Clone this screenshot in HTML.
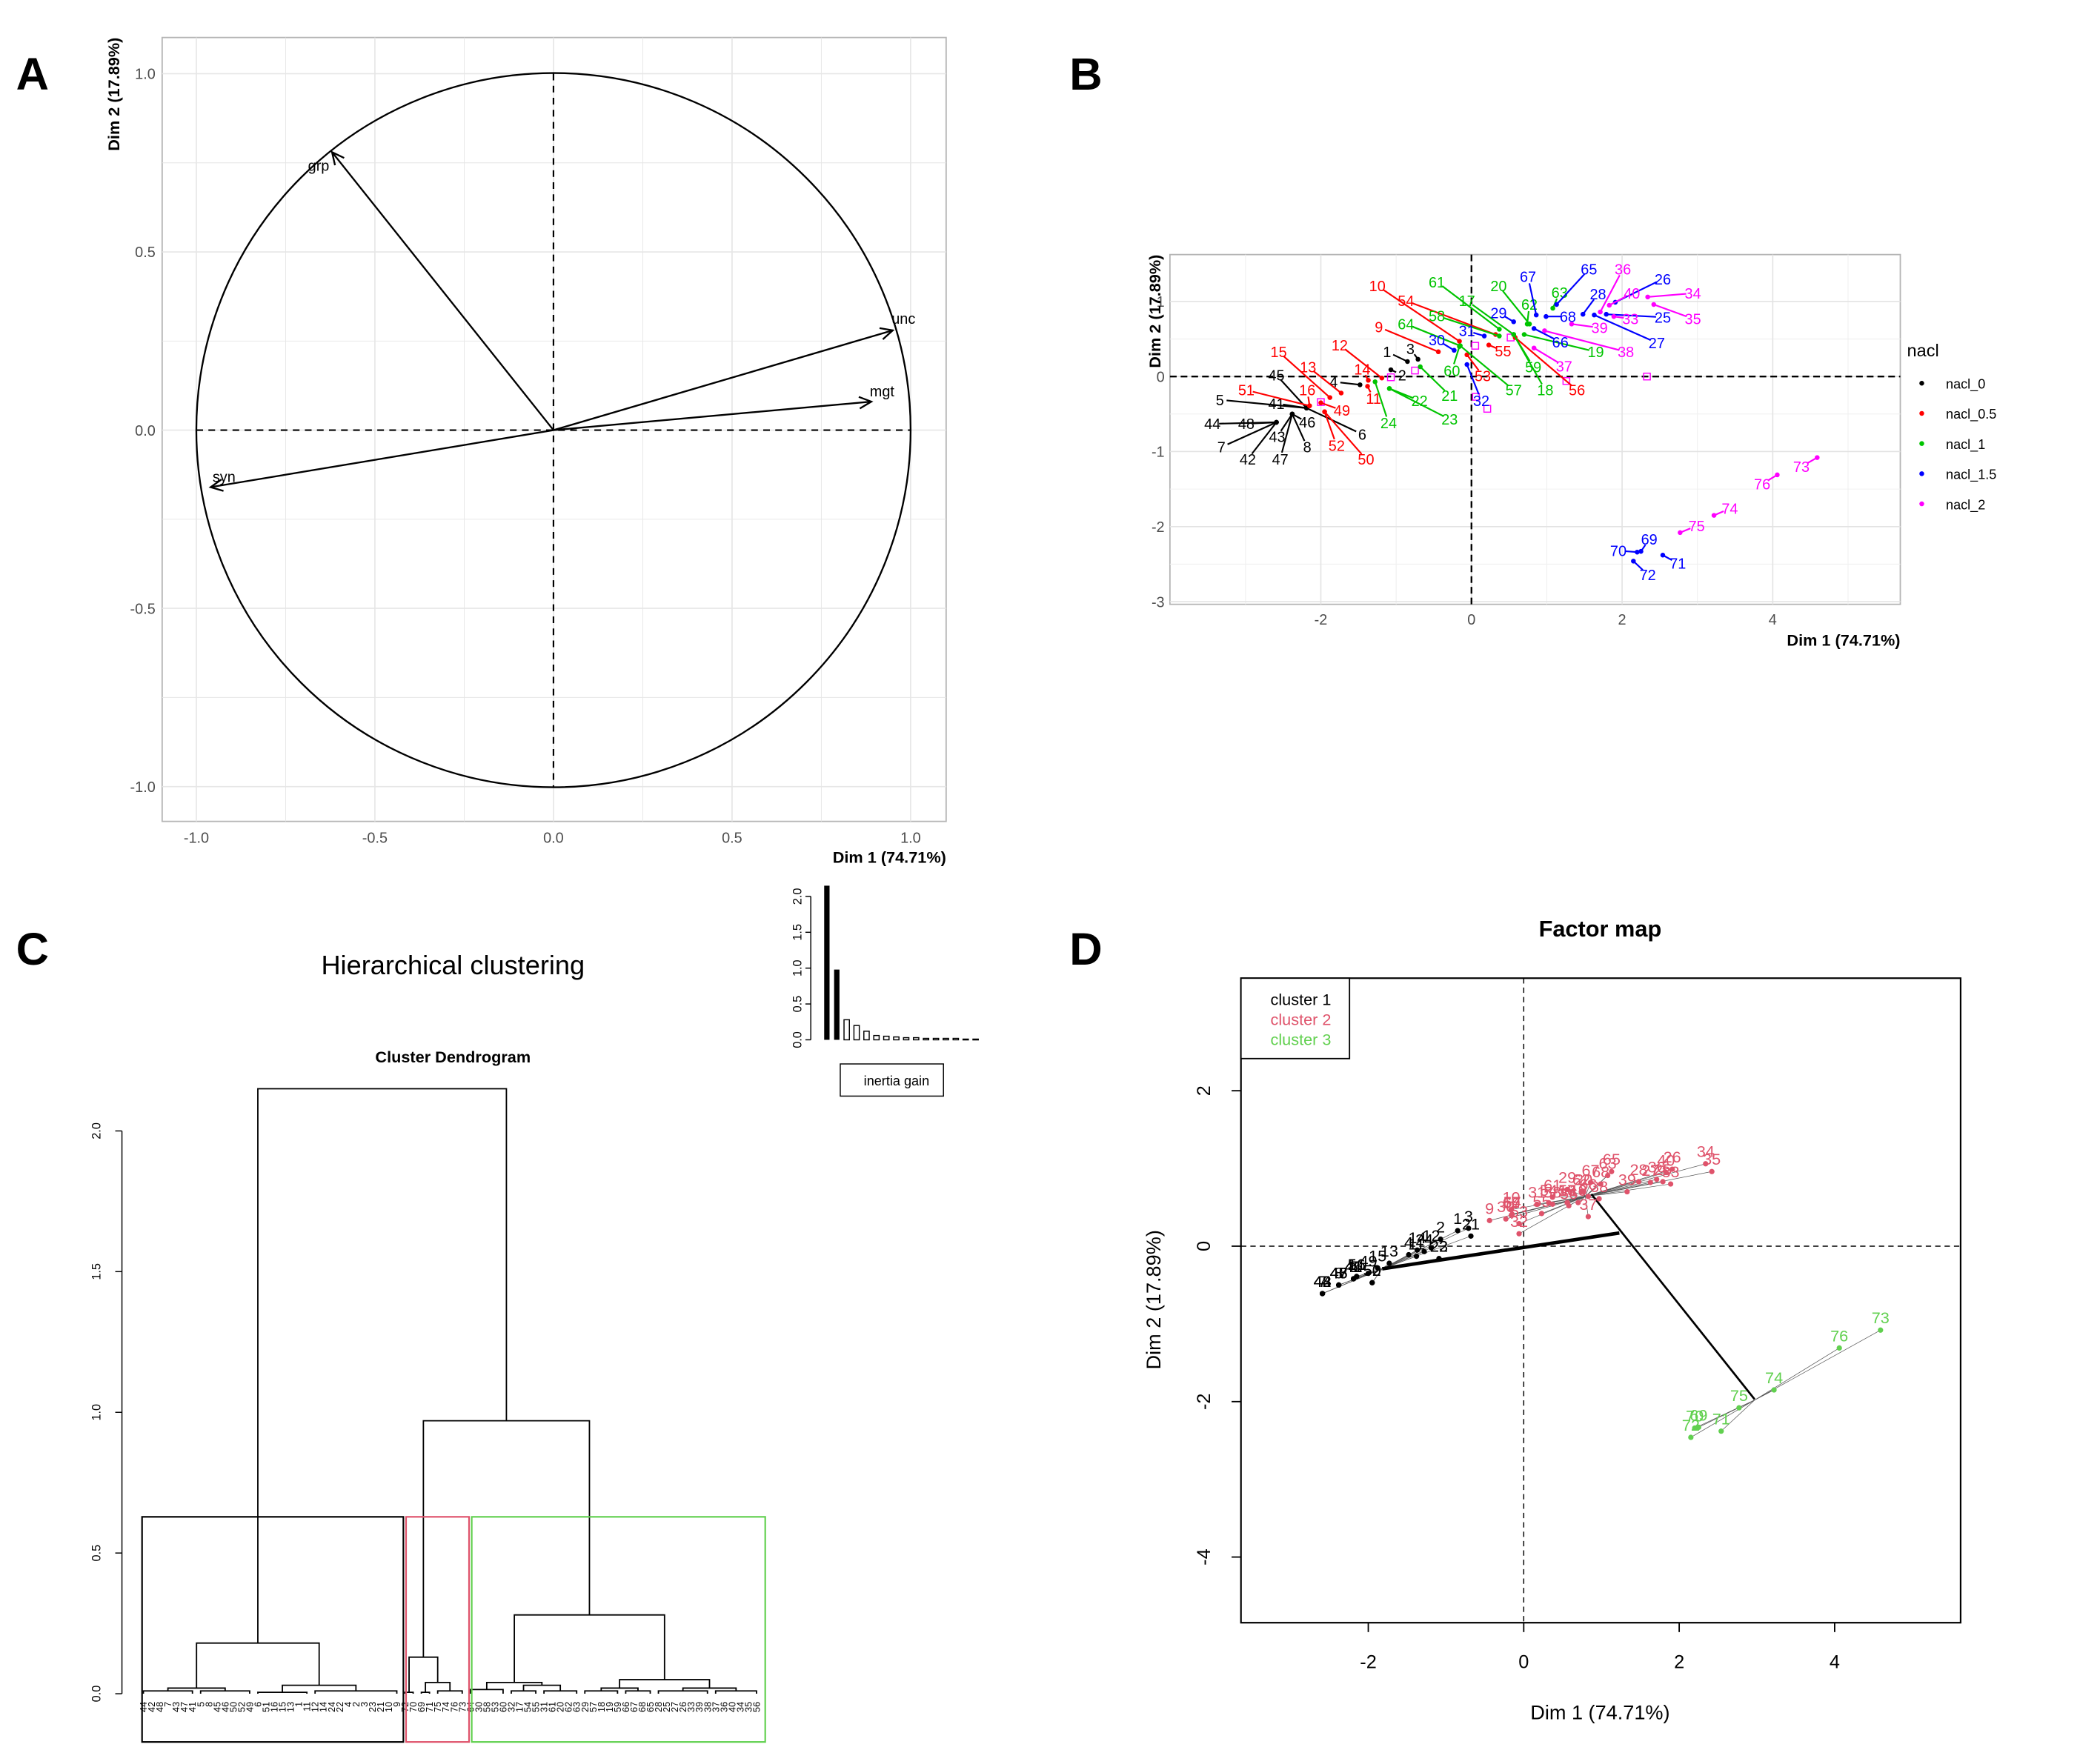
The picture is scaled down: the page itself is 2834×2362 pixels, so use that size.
<!DOCTYPE html>
<html><head><meta charset="utf-8"><style>
html,body{margin:0;padding:0;background:#fff}
svg{display:block;font-family:"Liberation Sans",sans-serif}
</style></head><body>
<svg id="fig" width="2834" height="2362" viewBox="0 0 1567 1306" preserveAspectRatio="none" xmlns="http://www.w3.org/2000/svg">
<g id="panelA"></g>
<g id="panelB"></g>
<g id="panelC"></g>
<g id="panelD"></g>
</svg>
<script>
// ---------- data ----------
const varNames = ["grp","unc","mgt","syn"];
const varX = [-0.62, 0.95, 0.89, -0.96];
const varY = [0.78, 0.28, 0.08, -0.16];
const ticksA = [-1.0, -0.5, 0.0, 0.5, 1.0];

const groups = ["nacl_0","nacl_0.5","nacl_1","nacl_1.5","nacl_2"];
const groupColors = ["#000000","#ff0000","#00c400","#0000ff","#ff00ff"];
const indLabels = ["1","3","2","4","45","5","41","44","48","46","7","43","42","47","8","6",
 "10","54","9","12","15","13","14","11","16","51","49","52","50","55","53","56",
 "61","17","20","63","62","58","64","60","21","22","23","24","57","18","19","59",
 "67","65","26","28","29","68","25","27","31","30","66","32","69","70","71","72",
 "36","40","34","35","33","39","38","37","73","76","74","75"];
const indGroup = [0,0,0,0,0,0,0,0,0,0,0,0,0,0,0,0,
 1,1,1,1,1,1,1,1,1,1,1,1,1,1,1,1,
 2,2,2,2,2,2,2,2,2,2,2,2,2,2,2,2,
 3,3,3,3,3,3,3,3,3,3,3,3,3,3,3,3,
 4,4,4,4,4,4,4,4,4,4,4,4];
const indX = [-0.85,-0.71,-1.07,-1.48,-2.19,-2.19,-2.19,-2.59,-2.59,-2.38,-2.59,-2.38,-2.59,-2.38,-2.38,-2.19,
 -0.16,0.32,-0.44,-1.19,-1.88,-1.73,-1.37,-1.38,-2.15,-2.15,-2.0,-1.95,-1.95,0.23,-0.06,0.58,
 0.37,0.56,0.77,1.08,0.74,0.37,-0.15,-0.16,-0.68,-1.09,-1.09,-1.28,-0.15,0.56,0.70,0.56,
 0.86,1.13,1.91,1.48,0.56,0.99,1.79,1.63,0.17,-0.23,0.83,-0.06,2.25,2.20,2.54,2.15,
 1.71,1.83,2.34,2.42,1.89,1.33,0.97,0.83,4.59,4.06,3.22,2.77];
const indY = [0.20,0.23,0.09,-0.11,-0.42,-0.42,-0.42,-0.61,-0.61,-0.50,-0.61,-0.50,-0.61,-0.50,-0.50,-0.42,
 0.47,0.56,0.33,-0.02,-0.28,-0.22,-0.05,-0.13,-0.39,-0.39,-0.35,-0.47,-0.47,0.42,0.29,0.52,
 0.63,0.56,0.70,0.91,0.70,0.54,0.41,0.40,0.13,-0.16,-0.16,-0.07,0.41,0.56,0.56,0.56,
 0.82,0.96,0.99,0.83,0.73,0.80,0.83,0.82,0.54,0.35,0.64,0.16,-2.33,-2.34,-2.38,-2.46,
 0.86,0.95,1.06,0.96,0.80,0.70,0.61,0.38,-1.08,-1.31,-1.85,-2.08];
const labX = [-1.12,-0.81,-0.92,-1.83,-2.59,-3.34,-2.59,-3.44,-2.99,-2.18,-3.32,-2.58,-2.97,-2.54,-2.18,-1.45,
 -1.25,-0.87,-1.23,-1.75,-2.56,-2.17,-1.45,-1.30,-2.18,-2.99,-1.72,-1.79,-1.40,0.42,0.15,1.40,
 -0.46,-0.06,0.36,1.17,0.77,-0.46,-0.87,-0.26,-0.29,-0.69,-0.29,-1.10,0.56,0.98,1.65,0.82,
 0.75,1.56,2.54,1.68,0.36,1.28,2.54,2.46,-0.06,-0.46,1.18,0.13,2.36,1.95,2.74,2.34,
 2.01,2.13,2.94,2.94,2.11,1.70,2.05,1.23,4.38,3.86,3.43,2.99];
const labY = [0.33,0.37,0.02,-0.07,0.02,-0.31,-0.36,-0.63,-0.63,-0.61,-0.94,-0.80,-1.10,-1.10,-0.94,-0.77,
 1.21,1.01,0.66,0.42,0.33,0.13,0.10,-0.29,-0.18,-0.18,-0.45,-0.92,-1.10,0.34,0.01,-0.18,
 1.26,1.01,1.21,1.12,0.96,0.81,0.70,0.08,-0.25,-0.32,-0.57,-0.62,-0.18,-0.18,0.33,0.13,
 1.33,1.43,1.30,1.10,0.85,0.80,0.79,0.45,0.61,0.49,0.46,-0.32,-2.17,-2.32,-2.49,-2.64,
 1.43,1.11,1.11,0.77,0.77,0.65,0.33,0.14,-1.20,-1.43,-1.76,-1.99];
const suppX = [-2.0,-1.07,-0.75,0.05,0.52,1.26,2.33,0.06,0.21];
const suppY = [-0.34,-0.01,0.08,0.41,0.52,-0.06,0.0,-0.27,-0.43];
const ticksBX = [-2,0,2,4];
const ticksBY = [1,0,-1,-2,-3];

const inertiaGain = [2.15,0.98,0.28,0.20,0.12,0.06,0.05,0.04,0.03,0.03,0.02,0.02,0.02,0.02,0.01,0.01];
const ticksInertia = [0.0,0.5,1.0,1.5,2.0];
const dendroTicks = [0.0,0.5,1.0,1.5,2.0];
const leafLabels = ["44","42","48","7","43","47","41","5","8","45","46","50","52","49","6","51","16","15","13","1","11","12","14","24","22","4","2","3","23","21","10","9",
 "72","70","69","71","75","74","76","73",
 "64","30","58","53","60","32","17","54","55","31","61","20","62","63","29","57","18","19","59","66","67","68","65","28","25","27","26","33","39","38","37","36","40","34","35","56"];
const clusterColors = ["#000000","#DF536B","#61D04F"];
const ticksD = [-2,0,2,4];
const ticksDY = [2,0,-2,-4];

// ---------- helpers ----------
const NS="http://www.w3.org/2000/svg";
function mk(parent,tag,attrs,text){const e=document.createElementNS(NS,tag);for(const k in attrs)e.setAttribute(k,attrs[k]);if(text!==undefined)e.textContent=text;parent.appendChild(e);return e;}

// ---------- Panel A ----------
(function(){
const g=document.getElementById('panelA');
const ax=u=>413+266.5*u, ay=v=>321-266*v;
let t=mk(g,'text',{x:12,y:67,'font-size':34,'font-weight':'bold'},'A');


const fr=mk(g,'rect',{x:121,y:28,width:585,height:585,fill:'#fff',stroke:'#b5b5b5','stroke-width':1});


[-1.0,-0.75,-0.5,-0.25,0,0.25,0.5,0.75,1.0].forEach((v,i)=>{
 const w=(i%2===0)?0.9:0.5;
 let l=mk(g,'line',{x1:ax(v),x2:ax(v),y1:28,y2:613,stroke:'#e6e6e6','stroke-width':w});
 
 
 l=mk(g,'line',{x1:121,x2:706,y1:ay(v),y2:ay(v),stroke:'#e6e6e6','stroke-width':w});
 
 
});
ticksA.forEach(v=>{
 let tx=mk(g,'text',{x:ax(v),y:629,'font-size':11,'text-anchor':'middle',fill:'#4d4d4d'},v.toFixed(1));
 
 
 tx=mk(g,'text',{x:116,y:ay(v)+4,'font-size':11,'text-anchor':'end',fill:'#4d4d4d'},v.toFixed(1));
 
 
});
let c=mk(g,'circle',{cx:ax(0),cy:ay(0),r:266.5,fill:'none',stroke:'#000','stroke-width':1.3});


let h=mk(g,'line',{x1:ax(-1),x2:ax(1),y1:ay(0),y2:ay(0),stroke:'#000','stroke-dasharray':'5,4','stroke-width':1.2});


h=mk(g,'line',{x1:ax(0),x2:ax(0),y1:ay(1),y2:ay(-1),stroke:'#000','stroke-dasharray':'5,4','stroke-width':1.2});


varNames.forEach((n,i)=>{
 const x2=ax(varX[i]),y2=ay(varY[i]),x1=ax(0),y1=ay(0);
 const a=Math.atan2(y2-y1,x2-x1),L=10;
 const gg=mk(g,'g',{});
 
 
 mk(gg,'line',{x1,y1,x2,y2,stroke:'#000','stroke-width':1.3});
 mk(gg,'polyline',{points:`${x2-L*Math.cos(a-0.45)},${y2-L*Math.sin(a-0.45)} ${x2},${y2} ${x2-L*Math.cos(a+0.45)},${y2-L*Math.sin(a+0.45)}`,fill:'none',stroke:'#000','stroke-width':1.3});
 const off={grp:[-10,14],unc:[8,-5],mgt:[8,-4],syn:[10,-4]}[n];
 const tt=mk(gg,'text',{x:x2+off[0],y:y2+off[1],'font-size':11,'text-anchor':'middle'},n);
 
 
});
let xt=mk(g,'text',{x:706,y:644,'font-size':12,'font-weight':'bold','text-anchor':'end'},'Dim 1 (74.71%)');


xt=mk(g,'text',{x:0,y:0,'font-size':12,'font-weight':'bold','text-anchor':'end',transform:'translate(89,28) rotate(-90)'},'Dim 2 (17.89%)');


})();

// ---------- Panel B ----------
(function(){
const g=document.getElementById('panelB');
const bx=u=>1098+56.2*u, by=v=>281-56*v;
let t=mk(g,'text',{x:798,y:67,'font-size':34,'font-weight':'bold'},'B');


const fr=mk(g,'rect',{x:873,y:190,width:545,height:261,fill:'#fff',stroke:'#b5b5b5'});


[-3,-1,1,3,5].forEach(v=>{let l=mk(g,'line',{x1:bx(v),x2:bx(v),y1:190,y2:451,stroke:'#f0f0f0','stroke-width':0.6});});
[0.5,-0.5,-1.5,-2.5].forEach(v=>{let l=mk(g,'line',{x1:873,x2:1418,y1:by(v),y2:by(v),stroke:'#f0f0f0','stroke-width':0.6});});
ticksBX.forEach(v=>{
 let l=mk(g,'line',{x1:bx(v),x2:bx(v),y1:190,y2:451,stroke:'#e3e3e3','stroke-width':0.9});
 
 
 let tx=mk(g,'text',{x:bx(v),y:466,'font-size':11,'text-anchor':'middle',fill:'#4d4d4d'},v);
 
 
});
ticksBY.forEach(v=>{
 let l=mk(g,'line',{x1:873,x2:1418,y1:by(v),y2:by(v),stroke:'#e3e3e3','stroke-width':0.9});
 
 
 let tx=mk(g,'text',{x:869,y:by(v)+4,'font-size':11,'text-anchor':'end',fill:'#4d4d4d'},v);
 
 
});
let h=mk(g,'line',{x1:873,x2:1418,y1:by(0),y2:by(0),stroke:'#000','stroke-dasharray':'5,3','stroke-width':1.3});


h=mk(g,'line',{x1:bx(0),x2:bx(0),y1:190,y2:451,stroke:'#000','stroke-dasharray':'5,3','stroke-width':1.3});


suppX.forEach((x,i)=>{
 const r=mk(g,'rect',{x:bx(x)-2.5,y:by(suppY[i])-2.5,width:5,height:5,fill:'none',stroke:'#ff00ff','stroke-width':0.8});
 
 
});
indLabels.forEach((lab,i)=>{
 const col=groupColors[indGroup[i]];
 const px=bx(indX[i]),py=by(indY[i]),lx=bx(labX[i]),ly=by(labY[i]);
 const d=Math.hypot(lx-px,ly-py);
 if(d>9){
  const k=(d-5)/d;
  const l=mk(g,'line',{x1:px,y1:py,x2:px+(lx-px)*k,y2:py+(ly-py)*k,stroke:col,'stroke-width':1.2});
  
  
 }
 const c=mk(g,'circle',{cx:px,cy:py,r:1.8,fill:col});
 
 
 const tx=mk(g,'text',{x:lx,y:ly+4,'font-size':11,'text-anchor':'middle',fill:col},lab);
 
 
});
let xt=mk(g,'text',{x:1418,y:482,'font-size':12,'font-weight':'bold','text-anchor':'end'},'Dim 1 (74.71%)');


xt=mk(g,'text',{x:0,y:0,'font-size':12,'font-weight':'bold','text-anchor':'end',transform:'translate(866,190) rotate(-90)'},'Dim 2 (17.89%)');


const lg=mk(g,'g',{});


let lt=mk(lg,'text',{x:1423,y:266,'font-size':13},'nacl');


groups.forEach((gn,i)=>{
 const e=mk(lg,'g',{});
 
 
 mk(e,'circle',{cx:1434,cy:286+22.5*i,r:1.8,fill:groupColors[i]});
 mk(e,'text',{x:1452,y:290+22.5*i,'font-size':10},gn);
});
})();

// ---------- Panel C ----------
(function(){
const g=document.getElementById('panelC');
let t=mk(g,'text',{x:12,y:720,'font-size':34,'font-weight':'bold'},'C');


t=mk(g,'text',{x:338,y:727,'font-size':20,'text-anchor':'middle'},'Hierarchical clustering');


t=mk(g,'text',{x:338,y:793,'font-size':12,'font-weight':'bold','text-anchor':'middle'},'Cluster Dendrogram');


// inertia inset
const iy=v=>776-53.5*v, ixb=i=>617+7.4*i;
let a=mk(g,'line',{x1:605,x2:605,y1:iy(0),y2:iy(2),stroke:'#000','stroke-width':0.8});


ticksInertia.forEach(v=>{
 mk(g,'line',{x1:601,x2:605,y1:iy(v),y2:iy(v),stroke:'#000','stroke-width':0.8});
 const tx=mk(g,'text',{x:0,y:0,'font-size':9,'text-anchor':'middle',transform:`translate(598,${iy(v)}) rotate(-90)`},v.toFixed(1));
 
 
});
inertiaGain.forEach((v,i)=>{
 const hgt=53.5*v;
 const r=mk(g,'rect',{x:ixb(i)-2,y:iy(v),width:4,height:Math.max(hgt,0.6),fill:i<2?'#000':'#fff',stroke:i<2?'none':'#000','stroke-width':0.8});
 
 
});
let lb=mk(g,'rect',{x:627,y:794,width:77,height:24,fill:'#fff',stroke:'#000','stroke-width':0.8});


t=mk(g,'text',{x:669,y:810,'font-size':10,'text-anchor':'middle'},'inertia gain');


// dendrogram
const dy=v=>1264-210*v, lx=i=>107+6.1*i;
a=mk(g,'line',{x1:91,x2:91,y1:dy(0),y2:dy(2.0),stroke:'#000','stroke-width':0.8});


dendroTicks.forEach(v=>{
 mk(g,'line',{x1:86,x2:91,y1:dy(v),y2:dy(v),stroke:'#000','stroke-width':0.8});
 const tx=mk(g,'text',{x:0,y:0,'font-size':9,'text-anchor':'middle',transform:`translate(75,${dy(v)}) rotate(-90)`},v.toFixed(1));
 
 
});
const N=(h,l,r)=>({h,l,r}), L=(a,b,h)=>({a,b,h:h||0.01});
const tree=N(2.15,
 N(0.18, N(0.02,L(0,6),L(7,13)), N(0.03,L(14,20,0.005),L(21,31,0.01))),
 N(0.97, N(0.13,L(32,33,0.005),N(0.04,L(34,35,0.005),L(36,39,0.01))),
   N(0.28, N(0.04,L(40,44,0.015),N(0.03,L(45,48,0.01),L(49,53,0.01))),
     N(0.05,N(0.02,L(54,58,0.01),L(59,62,0.01)),N(0.02,L(63,69,0.01),L(70,75,0.01))))));
function draw(nd){
 if(nd.a!==undefined){
  const x1=lx(nd.a),x2=lx(nd.b);
  const p=mk(g,'path',{d:`M${x1},${dy(0)}V${dy(nd.h)}H${x2}V${dy(0)}`,fill:'none',stroke:'#000','stroke-width':1});
  
  
  return (x1+x2)/2;
 }
 const cl=draw(nd.l),cr=draw(nd.r);
 const hl=nd.l.h,hr=nd.r.h;
 const p=mk(g,'path',{d:`M${cl},${dy(hl)}V${dy(nd.h)}H${cr}V${dy(hr)}`,fill:'none',stroke:'#000','stroke-width':1});
 
 
 return (cl+cr)/2;
}
const rootX=draw(tree);
leafLabels.forEach((lab,i)=>{
 const tx=mk(g,'text',{x:0,y:0,'font-size':7,'text-anchor':'end',transform:`translate(${lx(i)+2.5},${dy(0)+6}) rotate(-90)`},lab);
 
 
});
const boxes=[[106,301],[303,350],[352,571]];
boxes.forEach((b,i)=>{
 const r=mk(g,'rect',{x:b[0],y:1132,width:b[1]-b[0],height:168,fill:'none',stroke:clusterColors[i],'stroke-width':1.2});
 
 
});
})();

// ---------- Panel D ----------
(function(){
const g=document.getElementById('panelD');
const dx=u=>1137+58*u, dy=v=>930-58*v;
let t=mk(g,'text',{x:798,y:720,'font-size':34,'font-weight':'bold'},'D');


t=mk(g,'text',{x:1194,y:699,'font-size':17,'font-weight':'bold','text-anchor':'middle'},'Factor map');


const fr=mk(g,'rect',{x:926,y:730,width:537,height:481,fill:'none',stroke:'#000','stroke-width':1.2});


ticksD.forEach(v=>{
 mk(g,'line',{x1:dx(v),x2:dx(v),y1:1211,y2:1218,stroke:'#000'});
 const tx=mk(g,'text',{x:dx(v),y:1245,'font-size':14,'text-anchor':'middle'},v);
 
 
});
ticksDY.forEach(v=>{
 mk(g,'line',{x1:919,x2:926,y1:dy(v),y2:dy(v),stroke:'#000'});
 const tx=mk(g,'text',{x:0,y:0,'font-size':14,'text-anchor':'middle',transform:`translate(903,${dy(v)}) rotate(-90)`},v);
 
 
});
let h=mk(g,'line',{x1:926,x2:1463,y1:dy(0),y2:dy(0),stroke:'#000','stroke-dasharray':'4,3','stroke-width':0.8});


h=mk(g,'line',{x1:dx(0),x2:dx(0),y1:730,y2:1211,stroke:'#000','stroke-dasharray':'4,3','stroke-width':0.8});


const clusterOf=i=>{const n=+indLabels[i];if(n>=69)return 2;return indX[i]<-0.6?0:1;};
const cx=[0,0,0],cy=[0,0,0],cn=[0,0,0];
indLabels.forEach((l,i)=>{const c=clusterOf(i);cx[c]+=indX[i];cy[c]+=indY[i];cn[c]++;});
for(let c=0;c<3;c++){cx[c]/=cn[c];cy[c]/=cn[c];}
indLabels.forEach((lab,i)=>{
 const c=clusterOf(i);
 const l=mk(g,'line',{x1:dx(indX[i]),y1:dy(indY[i]),x2:dx(cx[c]),y2:dy(cy[c]),stroke:'#555','stroke-width':0.4});
 
 
});
let th=mk(g,'line',{x1:dx(cx[0]),y1:dy(cy[0]),x2:dx(1.23),y2:dy(0.17),stroke:'#000','stroke-width':2.6});


th=mk(g,'line',{x1:dx(0.87),y1:dy(0.67),x2:dx(2.97),y2:dy(-1.97),stroke:'#000','stroke-width':1.5});


indLabels.forEach((lab,i)=>{
 const c=clusterOf(i),col=clusterColors[c];
 const p=mk(g,'circle',{cx:dx(indX[i]),cy:dy(indY[i]),r:2,fill:col});
 
 
 const tx=mk(g,'text',{x:dx(indX[i]),y:dy(indY[i])-5,'font-size':12,'text-anchor':'middle',fill:col},lab);
 
 
});
const lg=mk(g,'g',{});


mk(lg,'rect',{x:926,y:730,width:81,height:60,fill:'#fff',stroke:'#000','stroke-width':1});
["cluster 1","cluster 2","cluster 3"].forEach((s,i)=>{
 const e=mk(lg,'text',{x:948,y:750+15*i,'font-size':12,fill:clusterColors[i]},s);
 
 
});
let xt=mk(g,'text',{x:1194,y:1283,'font-size':15,'text-anchor':'middle'},'Dim 1 (74.71%)');


xt=mk(g,'text',{x:0,y:0,'font-size':15,'text-anchor':'middle',transform:'translate(866,970) rotate(-90)'},'Dim 2 (17.89%)');


})();
</script>
</body></html>
